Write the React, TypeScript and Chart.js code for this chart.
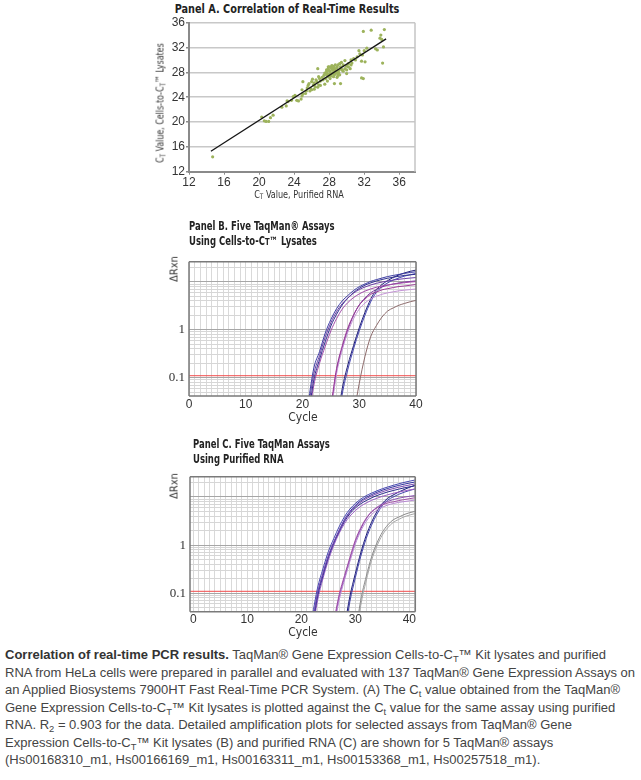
import React, { useEffect, useRef } from "react";
import { Chart, registerables } from "chart.js";
Chart.register(...registerables);

// ---------- Panel A: correlation scatter ----------
const A_X_TICKS = [12, 16, 20, 24, 28, 32, 36];
const A_Y_TICKS = [12, 16, 20, 24, 28, 32, 36];
const A_RNA_CT = [
  14.7, 20.3, 20.6, 20.8, 21.1, 21.3, 21.6, 22.6, 23.1, 23.2,
  23.3, 23.7, 23.9, 24.1, 24.3, 24.5, 24.8, 24.9, 24.9, 25.0,
  25.0, 25.3, 25.4, 25.5, 25.6, 25.7, 25.8, 25.9, 26.0, 26.0,
  26.1, 26.2, 26.3, 26.3, 26.4, 26.5, 26.6, 26.7, 26.7, 26.8,
  26.8, 26.9, 27.0, 27.0, 27.2, 27.3, 27.4, 27.5, 27.5, 27.6,
  27.7, 27.7, 27.7, 27.8, 27.8, 27.9, 27.9, 27.9, 28.0, 28.0,
  28.0, 28.1, 28.1, 28.1, 28.2, 28.2, 28.3, 28.3, 28.3, 28.4,
  28.4, 28.4, 28.5, 28.5, 28.5, 28.6, 28.6, 28.6, 28.7, 28.7,
  28.7, 28.8, 28.9, 28.9, 28.9, 28.9, 29.0, 29.0, 29.1, 29.1,
  29.2, 29.2, 29.3, 29.3, 29.4, 29.4, 29.5, 29.6, 29.6, 29.8,
  29.8, 30.0, 30.0, 30.0, 30.2, 30.2, 30.4, 30.5, 30.5, 30.6,
  30.8, 31.0, 31.2, 31.4, 31.5, 31.7, 31.7, 31.8, 31.9, 31.9,
  32.0, 32.1, 32.3, 32.8, 33.3, 33.5, 33.8, 33.9, 34.0, 34.1,
  34.2, 34.3,
];
const A_LYSATE_CT = [
  14.4, 20.8, 20.2, 20.1, 20.1, 20.7, 21.1, 22.4, 22.6, 23.4,
  23.3, 23.5, 24.1, 24.3, 23.5, 23.4, 23.7, 25.2, 24.2, 26.5,
  24.5, 24.6, 25.0, 25.5, 25.9, 26.2, 25.0, 25.4, 26.5, 25.2,
  26.9, 26.0, 25.3, 26.3, 25.7, 26.8, 26.5, 25.6, 28.6, 27.3,
  26.0, 27.0, 25.9, 26.6, 27.2, 26.8, 27.5, 26.1, 27.9, 27.0,
  27.6, 28.4, 28.1, 27.8, 26.6, 28.9, 27.3, 28.6, 27.5, 28.9,
  28.3, 27.8, 28.2, 27.0, 27.4, 28.8, 28.6, 27.7, 29.1, 27.9,
  29.0, 28.4, 27.3, 28.3, 28.9, 27.6, 26.2, 28.7, 29.2, 28.4,
  27.8, 27.9, 28.0, 28.9, 28.7, 27.2, 29.2, 27.5, 28.3, 27.9,
  27.6, 29.4, 26.2, 28.9, 28.5, 29.6, 28.4, 29.2, 28.2, 28.6,
  29.9, 27.8, 29.0, 28.4, 28.9, 29.4, 28.6, 29.2, 30.0, 29.5,
  30.2, 30.0, 30.5, 31.5, 31.0, 29.8, 27.1, 30.8, 27.0, 34.6,
  31.5, 29.7, 31.9, 34.8, 31.8, 31.6, 33.5, 34.0, 33.3, 29.5,
  32.1, 34.9,
];
const A_FIT_X = [14.5, 34.5];
const A_FIT_Y = [15.3, 33.4];

// ---------- Panels B & C: amplification plots ----------
const X_TICK_LABELS = [0, 10, 20, 30, 40];
const Y_TICK_LABELS = [0.1, 1];
const THRESHOLD = 0.11;

const B_CYCLES = [20, 21, 22, 23, 24, 25, 26, 27, 28, 29, 30, 31, 32, 33, 34, 35, 36, 37, 38, 39, 40];
const B_ASSAY1_A = [null, 0.03, 0.16, 0.35, 0.85, 1.64, 2.75, 4.0, 5.2, 6.6, 7.9, 9.0, 10.2, 11.1, 12.0, 12.9, 13.6, 14.3, 15.0, 15.7, 16.2];
const B_ASSAY1_B = [null, 0.022, 0.12, 0.29, 0.7, 1.4, 2.4, 3.5, 4.6, 5.8, 6.9, 7.8, 8.6, 9.3, 9.9, 10.4, 10.9, 11.3, 11.7, 12.0, 12.3];
const B_ASSAY2_A = [null, 0.015, 0.09, 0.24, 0.56, 1.2, 2.1, 3.3, 4.6, 6.0, 7.3, 8.5, 9.5, 10.4, 11.2, 11.9, 12.5, 13.1, 13.6, 14.0, 14.4];
const B_ASSAY2_B = [null, 0.012, 0.07, 0.2, 0.45, 0.95, 1.7, 2.7, 3.7, 4.7, 5.6, 6.4, 7.1, 7.7, 8.2, 8.6, 9.0, 9.3, 9.6, 9.9, 10.1];
const B_ASSAY3_A = [null, null, null, null, null, 0.025, 0.155, 0.46, 1.1, 2.04, 3.27, 4.35, 5.5, 6.1, 6.8, 7.2, 7.6, 8.0, 8.2, 8.5, 8.8];
const B_ASSAY3_B = [null, null, null, null, null, 0.018, 0.12, 0.38, 0.9, 1.7, 2.7, 3.6, 4.4, 5.0, 5.5, 5.9, 6.2, 6.5, 6.7, 6.9, 7.1];
const B_ASSAY3_C = [null, null, null, null, null, 0.02, 0.14, 0.42, 1.0, 2.0, 3.3, 4.6, 5.9, 6.9, 7.8, 8.5, 9.0, 9.5, 9.9, 10.2, 10.5];
const B_ASSAY4_A = [null, null, null, null, null, null, 0.01, 0.059, 0.186, 0.47, 1.1, 2.3, 4.3, 6.8, 8.8, 10.6, 12.4, 14.0, 15.4, 16.6, 17.6];
const B_ASSAY4_B = [null, null, null, null, null, null, 0.007, 0.045, 0.15, 0.4, 0.95, 2.0, 3.8, 6.0, 7.9, 9.5, 10.9, 12.1, 13.2, 14.1, 15.0];
const B_ASSAY5_A = [null, null, null, null, null, null, null, null, null, 0.016, 0.076, 0.275, 0.71, 1.21, 1.84, 2.46, 2.86, 3.25, 3.55, 3.85, 4.1];

const C_CYCLES = [21, 22, 23, 24, 25, 26, 27, 28, 29, 30, 31, 32, 33, 34, 35, 36, 37, 38, 39, 40, 41];
const C_ASSAY1_A = [null, 0.032, 0.128, 0.32, 0.73, 1.36, 2.4, 3.9, 5.6, 7.3, 9.0, 10.6, 12.0, 13.4, 14.8, 16.1, 17.4, 18.7, 20.0, 21.2, 22.4];
const C_ASSAY1_B = [null, 0.022, 0.1, 0.26, 0.6, 1.15, 2.0, 3.3, 4.8, 6.3, 7.8, 9.2, 10.5, 11.7, 12.8, 13.9, 14.9, 15.9, 16.8, 17.7, 18.6];
const C_ASSAY1_C = [null, 0.02, 0.095, 0.25, 0.58, 1.12, 2.0, 3.4, 5.0, 6.7, 8.3, 9.8, 11.2, 12.5, 13.8, 15.0, 16.2, 17.3, 18.4, 19.4, 20.4];
const C_ASSAY2_A = [null, 0.018, 0.085, 0.23, 0.55, 1.1, 1.9, 3.1, 4.5, 5.9, 7.2, 8.4, 9.6, 10.7, 11.7, 12.7, 13.6, 14.5, 15.4, 16.2, 17.0];
const C_ASSAY2_B = [null, 0.014, 0.07, 0.2, 0.48, 0.98, 1.75, 2.8, 4.0, 5.2, 6.4, 7.5, 8.5, 9.4, 10.3, 11.1, 11.9, 12.6, 13.3, 14.0, 14.6];
const C_ASSAY3_A = [null, null, null, null, null, 0.025, 0.093, 0.234, 0.556, 1.27, 2.29, 3.6, 4.9, 5.9, 6.8, 7.5, 7.9, 8.4, 8.8, 9.2, 9.6];
const C_ASSAY3_B = [null, null, null, null, null, 0.018, 0.072, 0.19, 0.46, 1.05, 1.95, 3.1, 4.3, 5.3, 6.1, 6.8, 7.3, 7.7, 8.0, 8.3, 8.6];
const C_ASSAY3_C = [null, null, null, null, null, 0.021, 0.083, 0.21, 0.51, 1.17, 2.15, 3.5, 4.9, 6.1, 7.2, 8.1, 8.8, 9.4, 9.9, 10.3, 10.7];
const C_ASSAY4_A = [null, null, null, null, null, null, null, 0.02, 0.087, 0.257, 0.69, 1.58, 2.98, 5.0, 7.3, 9.4, 11.0, 12.6, 14.2, 15.8, 17.4];
const C_ASSAY4_B = [null, null, null, null, null, null, null, 0.014, 0.068, 0.21, 0.58, 1.35, 2.6, 4.4, 6.6, 8.6, 10.0, 11.3, 12.5, 13.6, 14.6];
const C_ASSAY5_A = [null, null, null, null, null, null, null, null, null, 0.013, 0.072, 0.22, 0.565, 1.11, 1.85, 2.62, 3.35, 3.8, 4.3, 4.7, 5.0];
const C_ASSAY5_B = [null, null, null, null, null, null, null, null, null, 0.009, 0.055, 0.18, 0.48, 0.96, 1.62, 2.3, 2.95, 3.4, 3.85, 4.2, 4.5];

const B_SERIES = [
  { v: B_ASSAY1_A, c: "#3d3da3" }, { v: B_ASSAY1_B, c: "#6a3fa6" },
  { v: B_ASSAY2_A, c: "#2f2f8f" }, { v: B_ASSAY2_B, c: "#a04aa8" },
  { v: B_ASSAY3_A, c: "#9a3a96" }, { v: B_ASSAY3_B, c: "#c493d6" }, { v: B_ASSAY3_C, c: "#7c3c9e" },
  { v: B_ASSAY4_A, c: "#1e1e78" }, { v: B_ASSAY4_B, c: "#4848b4" },
  { v: B_ASSAY5_A, c: "#8d6b6b" },
];
const C_SERIES = [
  { v: C_ASSAY1_A, c: "#4646b0" }, { v: C_ASSAY1_B, c: "#7848b0" }, { v: C_ASSAY1_C, c: "#3535a0" },
  { v: C_ASSAY2_A, c: "#2a2a8a" }, { v: C_ASSAY2_B, c: "#9a5ec4" },
  { v: C_ASSAY3_A, c: "#a04ea6" }, { v: C_ASSAY3_B, c: "#b888d4" }, { v: C_ASSAY3_C, c: "#8a52b2" },
  { v: C_ASSAY4_A, c: "#1c1c7a" }, { v: C_ASSAY4_B, c: "#4444ac" },
  { v: C_ASSAY5_A, c: "#8a8a8a" }, { v: C_ASSAY5_B, c: "#a8a8a8" },
];

const LOG_MIN = 0.0415;
const LOG_MAX = 26.2;

const COND = '"DejaVu Sans Condensed", "Liberation Sans", sans-serif';
const SANS = '"Liberation Sans", Arial, sans-serif';
const SERIF = '"Liberation Serif", "Times New Roman", serif';

const framePlugin = {
  id: "frame",
  afterDraw(chart: any, _args: any, opts: any) {
    const { ctx, chartArea: a } = chart;
    ctx.save();
    ctx.strokeStyle = opts.color || "#808080";
    ctx.lineWidth = opts.width || 1;
    const sides: string[] = opts.sides || ["top", "right", "bottom", "left"];
    ctx.beginPath();
    if (sides.includes("top")) { ctx.moveTo(a.left, a.top); ctx.lineTo(a.right, a.top); }
    if (sides.includes("right")) { ctx.moveTo(a.right, a.top); ctx.lineTo(a.right, a.bottom); }
    if (sides.includes("bottom")) { ctx.moveTo(a.left, a.bottom); ctx.lineTo(a.right, a.bottom); }
    if (sides.includes("left")) { ctx.moveTo(a.left, a.top); ctx.lineTo(a.left, a.bottom); }
    ctx.stroke();
    ctx.restore();
  },
};

function ChartBox({ left, top, width, height, build }: any) {
  const ref = useRef<HTMLCanvasElement>(null);
  useEffect(() => {
    const chart = new Chart(ref.current as HTMLCanvasElement, build());
    return () => chart.destroy();
  }, []);
  return (
    <canvas ref={ref} width={width} height={height}
      style={{ position: "absolute", left, top, width, height }} />
  );
}

function Label({ x, y, anchor = "center", rotate = false, sx = 1, style = {}, children }: any) {
  const tx = anchor === "left" ? "0" : "-50%";
  const origin = anchor === "left" ? "left center" : "center center";
  return (
    <div style={{
      position: "absolute", left: x, top: y, whiteSpace: "nowrap", lineHeight: 1,
      transformOrigin: origin,
      transform: `translate(${tx},-50%)${rotate ? " rotate(-90deg)" : ""} scaleX(${sx})`, ...style,
    }}>{children}</div>
  );
}

const isDecade = (v: number) => Math.abs(Math.log10(v) - Math.round(Math.log10(v))) < 1e-6;

function buildPanelA() {
  return {
    type: "scatter",
    data: {
      datasets: [
        {
          type: "line",
          data: A_FIT_X.map((x, i) => ({ x, y: A_FIT_Y[i] })),
          borderColor: "#151515", borderWidth: 1.3, pointRadius: 0, fill: false,
        },
        {
          type: "scatter",
          data: A_RNA_CT.map((x, i) => ({ x, y: A_LYSATE_CT[i] })),
          backgroundColor: "#9db35c", borderWidth: 0, pointRadius: 1.6,
        },
      ],
    },
    options: {
      animation: false, responsive: false,
      layout: { padding: { top: 18.7, right: 10, left: 0, bottom: 0 } },
      plugins: { legend: { display: false }, tooltip: { enabled: false }, frame: { color: "#c4c4c4", width: 1.5, sides: ["right"] } },
      scales: {
        x: {
          type: "linear", min: 12, max: 37.8,
          afterBuildTicks: (s: any) => { s.ticks = A_X_TICKS.map((v) => ({ value: v })); },
          afterFit: (s: any) => { s.height = 32.3; },
          grid: { drawOnChartArea: false, tickLength: 3, color: "#8a8a8a" },
          border: { color: "#8a8a8a", width: 2 },
          ticks: { font: { family: SANS, size: 12 }, color: "#333", padding: 1, maxRotation: 0, autoSkip: false },
        },
        y: {
          type: "linear", min: 12, max: 36,
          afterBuildTicks: (s: any) => { s.ticks = A_Y_TICKS.map((v) => ({ value: v })); },
          afterFit: (s: any) => { s.width = 39; },
          grid: { color: "#c8c8c8", lineWidth: 1.5, tickLength: 3, tickColor: "#8a8a8a" },
          border: { color: "#8a8a8a", width: 2 },
          ticks: { font: { family: SANS, size: 12 }, color: "#333", padding: 1, autoSkip: false },
        },
      },
    },
    plugins: [framePlugin],
  };
}

function buildAmp(cycles: number[], series: any[], xMin: number, xMax: number, yWidth: number, xHeight: number, padTop: number, padRight: number) {
  const datasets: any[] = series.map((s) => ({
    data: s.v.map((y: any, i: number) => ({ x: cycles[i], y })).filter((p: any) => p.y !== null),
    borderColor: s.c, borderWidth: 1, pointRadius: 0, fill: false,
    cubicInterpolationMode: "monotone",
  }));
  datasets.push({
    data: [{ x: xMin, y: THRESHOLD }, { x: xMax, y: THRESHOLD }],
    borderColor: "#f24c4c", borderWidth: 1, pointRadius: 0, fill: false,
  });
  return {
    type: "line",
    data: { datasets },
    options: {
      animation: false, responsive: false,
      layout: { padding: { top: padTop, right: padRight, left: 0, bottom: 0 } },
      plugins: { legend: { display: false }, tooltip: { enabled: false }, frame: { color: "#7a7a7a", width: 1.5 } },
      scales: {
        x: {
          type: "linear", min: xMin, max: xMax,
          afterBuildTicks: (s: any) => {
            const t: any[] = [];
            for (let c = Math.ceil(xMin); c <= Math.floor(xMax); c++) t.push({ value: c });
            s.ticks = t;
          },
          afterFit: (s: any) => { s.height = xHeight; },
          grid: { color: "#d9d9d9", lineWidth: 1, drawTicks: false },
          border: { display: false },
          ticks: {
            font: { family: SANS, size: 12 }, color: "#333", padding: 1, maxRotation: 0, autoSkip: false,
            callback: (v: number) => (X_TICK_LABELS.includes(v) ? String(v) : ""),
          },
        },
        y: {
          type: "logarithmic", min: LOG_MIN, max: LOG_MAX,
          afterBuildTicks: (s: any) => {
            const t: any[] = [];
            for (let e = -2; e <= 1; e++) for (let m = 1; m <= 9; m++) {
              const v = m * Math.pow(10, e);
              if (v >= LOG_MIN && v <= LOG_MAX) t.push({ value: v });
            }
            s.ticks = t;
          },
          afterFit: (s: any) => { s.width = yWidth; },
          grid: { color: (ctx: any) => (ctx.tick && isDecade(ctx.tick.value) ? "#a6a6a6" : "#d6d6d6"), lineWidth: 1, drawTicks: false },
          border: { display: false },
          ticks: {
            font: { family: SERIF, size: 13 }, color: "#333", padding: 4, autoSkip: false,
            callback: (v: number) => {
              const l = Y_TICK_LABELS.find((y) => Math.abs(y - v) < 1e-9);
              return l === undefined ? "" : String(l);
            },
          },
        },
      },
    },
    plugins: [framePlugin],
  };
}

const titleA = { fontFamily: COND, fontWeight: "bold", fontSize: 11.5, color: "#222" };
const titleBC = { fontFamily: COND, fontWeight: "bold", fontSize: 11.5, color: "#222" };
const axisStyle = { fontFamily: COND, fontSize: 11, color: "#333" };
const subT = { fontSize: "0.7em", verticalAlign: "-0.2em", lineHeight: 0 } as any;
const capSub = { fontSize: "0.72em", verticalAlign: "-0.3em", lineHeight: 0 } as any;

export default function App() {
  return (
    <div style={{ position: "absolute", left: 0, top: 0, width: 641, height: 780, background: "#fff", overflow: "hidden" }}>
      {/* Panel A */}
      <Label x={287} y={10} sx={0.94} style={titleA}>Panel A. Correlation of Real-Time Results</Label>
      <ChartBox left={150} top={4} width={275} height={200} build={buildPanelA} />
      <Label x={160} y={103} rotate sx={0.8} style={axisStyle}>
        C<span style={subT}>T</span> Value, Cells-to-C<span style={subT}>T</span>™ Lysates
      </Label>
      <Label x={299} y={194} sx={0.82} style={axisStyle}>C<span style={subT}>T</span> Value, Purified RNA</Label>

      {/* Panel B */}
      <Label x={189} y={227} anchor="left" sx={0.82} style={titleBC}>Panel B. Five TaqMan® Assays</Label>
      <Label x={189} y={242} anchor="left" sx={0.82} style={titleBC}>
        Using Cells-to-C<span style={{ fontSize: "0.8em" }}>T</span>™ Lysates
      </Label>
      <ChartBox left={150} top={250} width={276} height={165}
        build={() => buildAmp(B_CYCLES, B_SERIES, 0, 40, 39, 19, 6, 10)} />
      <Label x={174} y={269} rotate style={{ fontFamily: COND, fontSize: 11, color: "#333" }}>ΔRxn</Label>
      <Label x={303} y={417} style={{ fontFamily: COND, fontSize: 12, color: "#333" }}>Cycle</Label>

      {/* Panel C */}
      <Label x={193} y={445} anchor="left" sx={0.82} style={titleBC}>Panel C. Five TaqMan Assays</Label>
      <Label x={193} y={459.5} anchor="left" sx={0.82} style={titleBC}>Using Purified RNA</Label>
      <ChartBox left={150} top={465} width={276} height={165}
        build={() => buildAmp(C_CYCLES, C_SERIES, -0.6, 41.1, 40, 18.3, 6.7, 10.7)} />
      <Label x={174} y={486} rotate style={{ fontFamily: COND, fontSize: 11, color: "#333" }}>ΔRxn</Label>
      <Label x={303} y={632} style={{ fontFamily: COND, fontSize: 12, color: "#333" }}>Cycle</Label>

      {/* Caption */}
      <div style={{ position: "absolute", left: 5, top: 646, fontFamily: SANS, fontSize: 13, lineHeight: "17.5px", color: "#444" }}>
        <div style={{ whiteSpace: "nowrap" }}>
          <b style={{ color: "#333" }}>Correlation of real-time PCR results.</b> TaqMan® Gene Expression Cells-to-C<sub style={capSub}>T</sub>™ Kit lysates and purified
        </div>
        <div style={{ whiteSpace: "nowrap" }}>RNA from HeLa cells were prepared in parallel and evaluated with 137 TaqMan® Gene Expression Assays on</div>
        <div style={{ whiteSpace: "nowrap" }}>an Applied Biosystems 7900HT Fast Real-Time PCR System. (A) The C<sub style={capSub}>t</sub> value obtained from the TaqMan®</div>
        <div style={{ whiteSpace: "nowrap" }}>Gene Expression Cells-to-C<sub style={capSub}>T</sub>™ Kit lysates is plotted against the C<sub style={capSub}>t</sub> value for the same assay using purified</div>
        <div style={{ whiteSpace: "nowrap" }}>RNA. R<sub style={capSub}>2</sub> = 0.903 for the data. Detailed amplification plots for selected assays from TaqMan® Gene</div>
        <div style={{ whiteSpace: "nowrap" }}>Expression Cells-to-C<sub style={capSub}>T</sub>™ Kit lysates (B) and purified RNA (C) are shown for 5 TaqMan® assays</div>
        <div style={{ whiteSpace: "nowrap" }}>(Hs00168310_m1, Hs00166169_m1, Hs00163311_m1, Hs00153368_m1, Hs00257518_m1).</div>
      </div>
    </div>
  );
}
